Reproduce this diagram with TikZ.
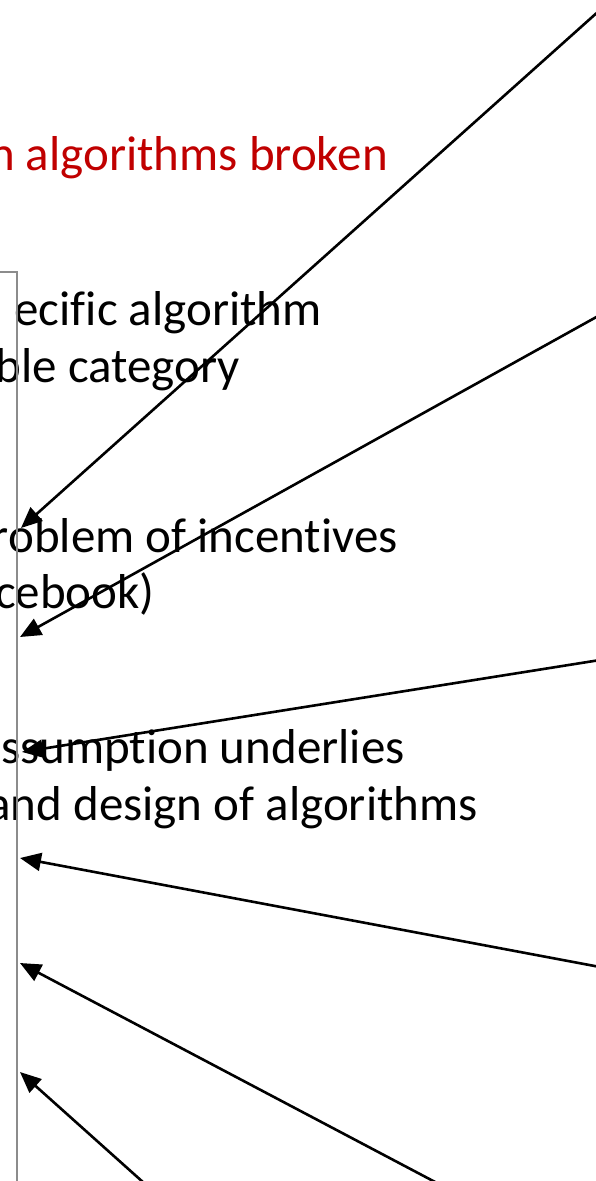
\documentclass[tikz,border=0pt]{standalone}
\usepackage{fontspec}
\setmainfont{Carlito}[Ligatures=NoCommon]
\usetikzlibrary{arrows.meta}

\begin{document}
\begin{tikzpicture}[x=1pt,y=-1pt,
  txt/.style={anchor=base east, inner sep=0pt, font=\fontsize{49}{58}\selectfont},
  ptr/.style={line width=2.6pt, -{Triangle[length=21pt,width=18pt]}},
  frame/.style={draw=black!45, line width=2.6pt}]
\useasboundingbox (0,0) rectangle (596,1181);
\clip (0,0) rectangle (596,1181);
\node[txt, text={rgb,255:red,192;green,0;blue,0}] (title) at (388,170) {n algorithms broken};
\node[txt] (l1) at (322,325) {ecific algorithm};
\node[txt] (l2) at (240,382) {ble category};
\node[txt] (l3) at (398,552) {roblem of incentives};
\node[txt] (l4) at (155,608) {cebook)};
\node[txt] (l5) at (405,763) {ssumption underlies};
\node[txt] (l6) at (478,820) {and design of algorithms};
\draw[frame] (-5,272) -- (17,272) -- (17,1190);
\coordinate (s1) at (600,10);   \coordinate (t1) at (21,528);
\coordinate (s2) at (600,315);  \coordinate (t2) at (20,637);
\coordinate (s3) at (600,660);  \coordinate (t3) at (22,752);
\coordinate (s4) at (600,967);  \coordinate (t4) at (20,858);
\coordinate (s5) at (437,1183); \coordinate (t5) at (20,963);
\coordinate (s6) at (144,1183); \coordinate (t6) at (20,1072);
\foreach \i in {1,...,6}
  \draw[ptr] (s\i) -- (t\i);
\end{tikzpicture}
\end{document}
